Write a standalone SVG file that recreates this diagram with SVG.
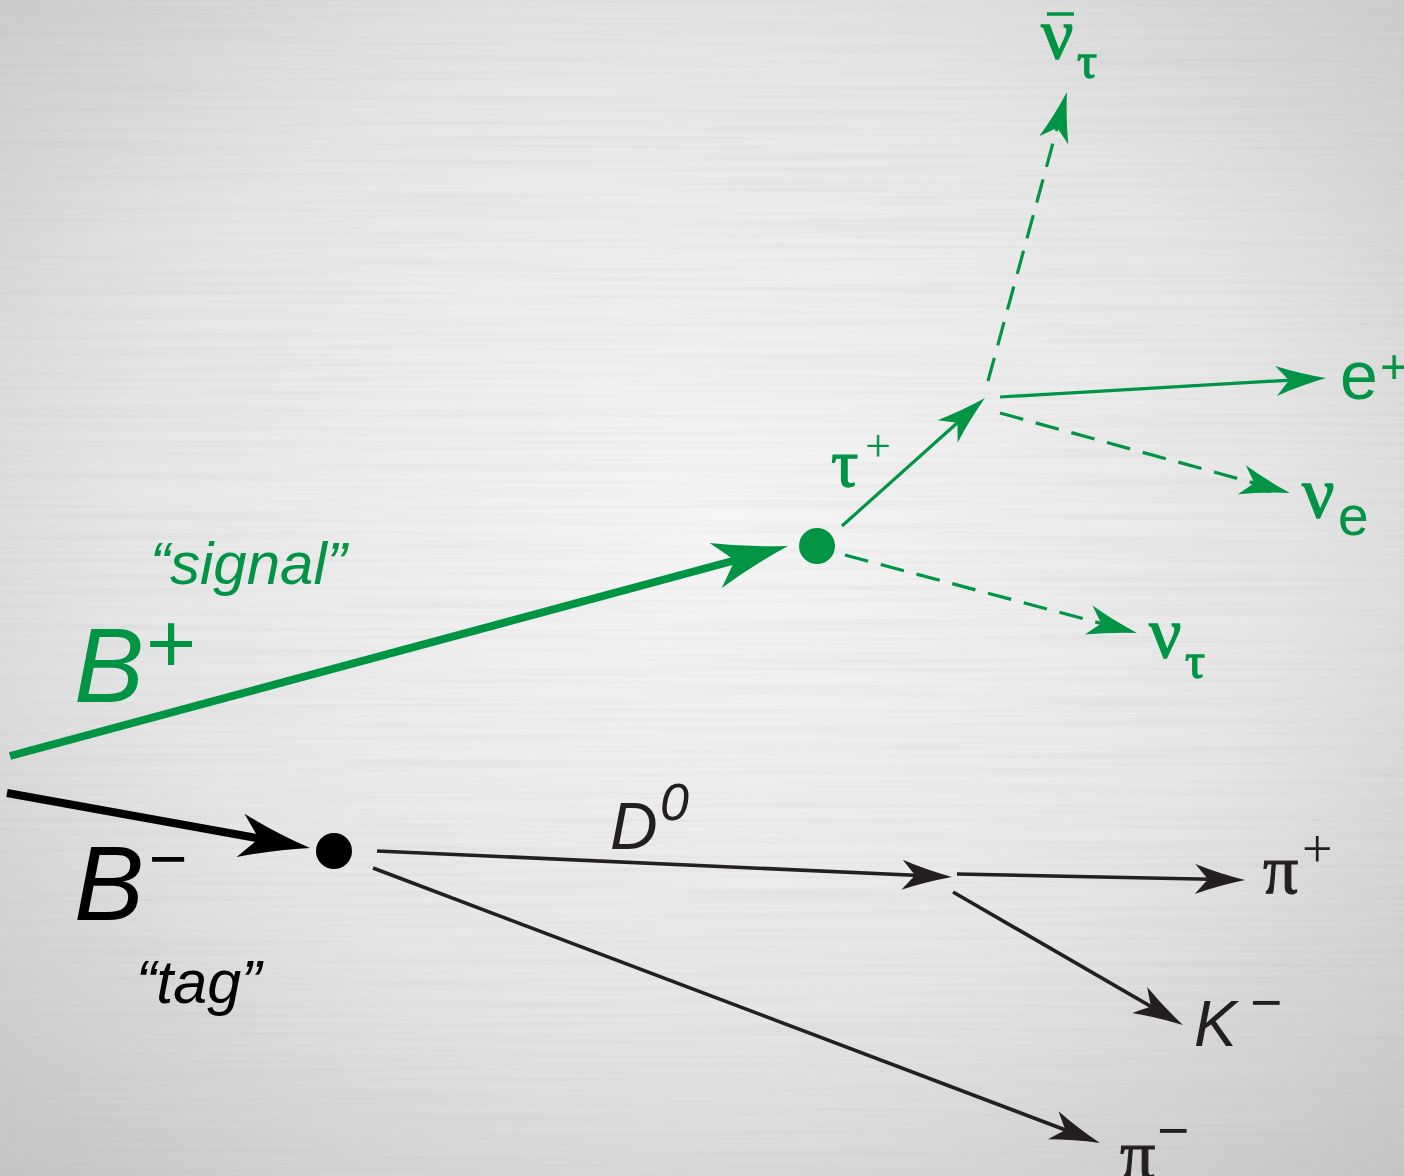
<svg xmlns="http://www.w3.org/2000/svg" width="1404" height="1176" viewBox="0 0 1404 1176">
  <defs>
    <radialGradient id="bg" cx="50%" cy="45%" r="75%">
      <stop offset="0" stop-color="#f6f6f6"/>
      <stop offset="0.55" stop-color="#e6e6e6"/>
      <stop offset="1" stop-color="#c4c4c4"/>
    </radialGradient>
    <filter id="brush" x="0" y="0" width="100%" height="100%">
      <feTurbulence type="fractalNoise" baseFrequency="0.003 0.22" numOctaves="2" seed="7"/>
      <feColorMatrix type="matrix" values="0 0 0 0 0.45  0 0 0 0 0.45  0 0 0 0 0.45  0.9 0 0 0 -0.35"/>
    </filter>
    <marker id="ahG" markerUnits="userSpaceOnUse" viewBox="-42 -17 54 34" markerWidth="54" markerHeight="34" refX="0" refY="0" orient="auto" overflow="visible">
      <path d="M10,0 Q-16,-6 -40,-15 L-27,0 L-40,15 Q-16,6 10,0 Z" fill="#009444"/>
    </marker>
    <marker id="ahK" markerUnits="userSpaceOnUse" viewBox="-42 -17 54 34" markerWidth="54" markerHeight="34" refX="0" refY="0" orient="auto" overflow="visible">
      <path d="M10,0 Q-16,-6 -40,-15 L-27,0 L-40,15 Q-16,6 10,0 Z" fill="#231f20"/>
    </marker>
    <path id="bigHead" d="M0,0 Q-38,-9 -72,-22.5 L-53,0 L-72,22.5 Q-38,9 0,0 Z"/>
    <style>
      .g { stroke: #009444; fill: none; stroke-width: 3.2; }
      .k { stroke: #231f20; fill: none; stroke-width: 3.6; }
      .dash { stroke-dasharray: 24 13; }
      .sans { font-family: "Liberation Sans", Arial, sans-serif; }
      .serif { font-family: "Liberation Serif", "Times New Roman", serif; }
      .it { font-style: italic; }
      .tg { fill: #009444; }
      .tk { fill: #231f20; }
      .tb { fill: #000000; }
      .gk.tg { stroke: #009444; stroke-width: 1.3; }
      .gk.tk { stroke: #231f20; stroke-width: 1.1; }
    </style>
  </defs>

  <rect x="0" y="0" width="1404" height="1176" fill="url(#bg)"/>
  <rect x="0" y="0" width="1404" height="1176" filter="url(#brush)" opacity="0.35"/>

  <g id="connectors">
    <!-- B+ signal -->
    <line x1="10" y1="756" x2="740" y2="559" stroke="#009444" stroke-width="8"/>
    <use href="#bigHead" fill="#009444" transform="translate(788,546) rotate(-15.1) scale(1.04)"/>
    <!-- B- tag -->
    <line x1="7" y1="793" x2="262" y2="839" stroke="#000000" stroke-width="8"/>
    <use href="#bigHead" fill="#000000" transform="translate(310,848) rotate(10.3) scale(0.98)"/>
    <!-- tau+ -->
    <line class="g" x1="842" y1="526" x2="977.5" y2="404.7" marker-end="url(#ahG)"/>
    <!-- anti nu tau -->
    <line class="g dash" x1="988" y1="381" x2="1064.3" y2="101.6" marker-end="url(#ahG)"/>
    <!-- e+ -->
    <line class="g" x1="1000" y1="397" x2="1316" y2="378.6" marker-end="url(#ahG)"/>
    <!-- nu e -->
    <line class="g dash" x1="1000" y1="413" x2="1280.4" y2="490.3" marker-end="url(#ahG)"/>
    <!-- nu tau -->
    <line class="g dash" x1="845" y1="555" x2="1127.3" y2="630.4" marker-end="url(#ahG)"/>
    <!-- D0 -->
    <line class="k" x1="377" y1="851" x2="942" y2="876.5" marker-end="url(#ahK)"/>
    <!-- pi+ -->
    <line class="k" x1="957" y1="874" x2="1235" y2="879.8" marker-end="url(#ahK)"/>
    <!-- K- -->
    <line class="k" x1="953" y1="892" x2="1174.3" y2="1020" marker-end="url(#ahK)"/>
    <!-- pi- -->
    <line class="k" x1="373" y1="868" x2="1090.6" y2="1139.5" marker-end="url(#ahK)"/>
  </g>

  <g id="signal-vertex">
    <circle cx="817" cy="546" r="18" fill="#009444"/>
  </g>
  <g id="tag-vertex">
    <circle cx="334" cy="851" r="18" fill="#000000"/>
  </g>

  <g id="label-Bplus">
    <text class="sans it tg" x="74" y="702" font-size="105">B</text>
    <text class="sans tg" x="146" y="673" font-size="86">+</text>
  </g>
  <g id="label-signal">
    <text class="sans it tg" x="150" y="584" font-size="60">“signal”</text>
  </g>
  <g id="label-Bminus">
    <text class="sans it tb" x="74" y="920" font-size="105">B</text>
    <text class="sans tb" x="149" y="881" font-size="66">−</text>
  </g>
  <g id="label-tag">
    <text class="sans it tb" x="136" y="1003" font-size="61">“tag”</text>
  </g>

  <g id="label-tauplus">
    <text class="serif tg gk" x="831" y="486" font-size="68">τ</text>
    <text class="serif tg" x="865" y="461" font-size="46">+</text>
  </g>
  <g id="label-antinutau">
    <text class="serif tg gk" x="1041" y="58" font-size="72">ν</text>
    <line x1="1047" y1="14" x2="1074" y2="14" stroke="#009444" stroke-width="3.5"/>
    <text class="serif tg gk" x="1077" y="78" font-size="50">τ</text>
  </g>
  <g id="label-eplus">
    <text class="sans tg" x="1340" y="399" font-size="68">e</text>
    <text class="sans tg" x="1380" y="383" font-size="48">+</text>
  </g>
  <g id="label-nue">
    <text class="serif tg gk" x="1302" y="517" font-size="72">ν</text>
    <text class="sans tg" x="1338" y="535" font-size="55">e</text>
  </g>
  <g id="label-nutau">
    <text class="serif tg gk" x="1149" y="657" font-size="72">ν</text>
    <text class="serif tg gk" x="1185" y="678" font-size="50">τ</text>
  </g>

  <g id="label-D0">
    <text class="sans it tk" x="610" y="849" font-size="66">D</text>
    <text class="sans it tk" x="660" y="820" font-size="52">0</text>
  </g>
  <g id="label-piplus">
    <text class="serif tk gk" x="1263" y="893" font-size="70">π</text>
    <text class="serif tk" x="1302" y="867" font-size="54">+</text>
  </g>
  <g id="label-Kminus">
    <text class="sans it tk" x="1194" y="1046" font-size="64">K</text>
    <text class="sans tk" x="1250" y="1021" font-size="55">−</text>
  </g>
  <g id="label-piminus">
    <text class="serif tk gk" x="1120" y="1178" font-size="70">π</text>
    <text class="sans tk" x="1157" y="1149" font-size="55">−</text>
  </g>
</svg>
